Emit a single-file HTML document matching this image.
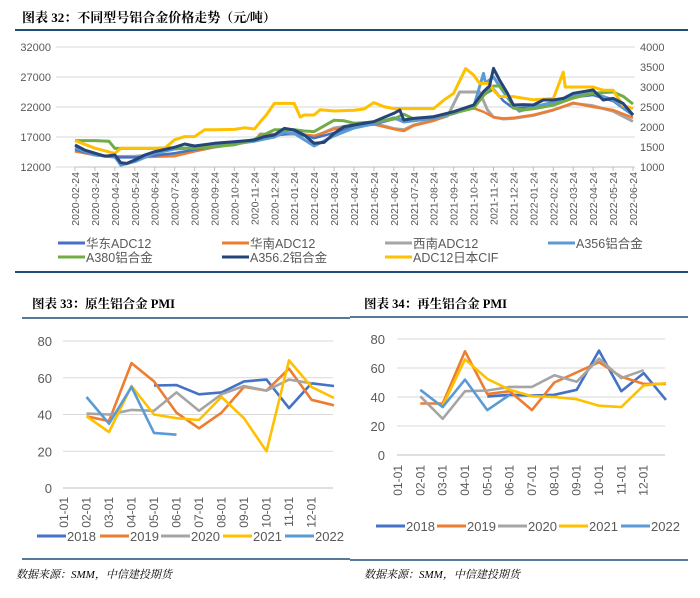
<!DOCTYPE html>
<html><head><meta charset="utf-8">
<style>
body{margin:0;background:#fff;width:700px;height:598px;overflow:hidden;font-family:"Liberation Sans","Noto Sans CJK SC",sans-serif;}
svg{position:absolute;left:0;top:0}
</style></head>
<body>
<svg id="s" width="700" height="598" viewBox="0 0 700 598" xmlns="http://www.w3.org/2000/svg">
<text x="22" y="22" font-size="13" font-weight="bold" font-family="'Liberation Serif','Noto Serif CJK SC',serif" fill="#000">图表 32：不同型号铝合金价格走势（元/吨）</text>
<line x1="15" y1="30" x2="688" y2="30" stroke="#1f4e79" stroke-width="2"/>
<line x1="15" y1="272" x2="688" y2="272" stroke="#1f4e79" stroke-width="2"/>
<text x="32" y="308" font-size="12.5" font-weight="bold" font-family="'Liberation Serif','Noto Serif CJK SC',serif">图表 33：原生铝合金 PMI</text>
<line x1="22" y1="318" x2="350" y2="318" stroke="#1f4e79" stroke-width="1.5"/>
<line x1="22" y1="559" x2="350" y2="559" stroke="#1f4e79" stroke-width="1.5"/>
<text x="16" y="578" font-size="11" font-style="italic" font-family="'Liberation Serif','Noto Serif CJK SC',serif">数据来源：SMM，中信建投期货</text>
<text x="364" y="308" font-size="12.5" font-weight="bold" font-family="'Liberation Serif','Noto Serif CJK SC',serif">图表 34：再生铝合金 PMI</text>
<line x1="350" y1="317" x2="688" y2="317" stroke="#1f4e79" stroke-width="1.5"/>
<line x1="350" y1="560" x2="688" y2="560" stroke="#1f4e79" stroke-width="1.5"/>
<text x="364" y="578" font-size="11" font-style="italic" font-family="'Liberation Serif','Noto Serif CJK SC',serif">数据来源：SMM，中信建投期货</text>
</svg>
<script>
// ---- Chart 32 data (month offsets from 2020-02-24, values) ----
const dateLabels = ["2020-02-24","2020-03-24","2020-04-24","2020-05-24","2020-06-24","2020-07-24","2020-08-24","2020-09-24","2020-10-24","2020-11-24","2020-12-24","2021-01-24","2021-02-24","2021-03-24","2021-04-24","2021-05-24","2021-06-24","2021-07-24","2021-08-24","2021-09-24","2021-10-24","2021-11-24","2021-12-24","2022-01-24","2022-02-24","2022-03-24","2022-04-24","2022-05-24","2022-06-24"];
const leftTicks = [12000,17000,22000,27000,32000];
const rightTicks = [1000,1500,2000,2500,3000,3500,4000];
const grayM = [0,1,2,3,4,5,6,7,8,9,9.3,10,11,12,13,14,15,16,16.5,17,18,18.7,19,19.3,20.3,20.7,21,21.5,22,23,24,25,26,27,28];
const grayV = [14800,14000,13700,13800,14000,14200,14700,15300,15800,16300,17500,17400,17500,17000,18500,19000,19300,18400,18200,19000,19800,20500,22500,24500,24500,21500,20300,20000,20100,20600,21500,22600,22200,21300,19600];
const orangeM = [0,1,2,3,4,5,6,7,8,9,9.3,10,11,12,13,14,15,16,16.5,17,18,19,20,20.5,21,21.5,22,23,24,25,26,27,28];
const orangeV = [14600,14000,13800,13600,13700,13800,14600,15300,15900,16400,17400,17500,17600,17200,18300,18800,19100,18300,18000,18900,19700,21000,21800,21200,20300,20100,20200,20700,21500,22700,22000,21500,20200];
const eastM = [0,1,2,3,4,5,6,7,8,9,10,11,12,13,14,15,16,17,18,19,20,20.5,21,21.5,22,23,24,25,26,27,28];
const eastV = [14900,14000,13600,13600,13900,14300,14900,15400,15900,16600,17200,17700,16800,17700,18700,19100,20000,19800,20200,20900,21900,24000,25000,23000,21800,22000,22600,23600,24000,23000,20600];
const a356M = [0,1,2,2.3,3,4,5,6,7,8,9,10,10.5,11,12,13,14,15,16,16.5,17,18,19,20,20.5,20.6,21,21.5,22,22.3,23,24,25,26,27,28];
const a356V = [15200,14000,13700,12300,12900,14300,15000,15200,15600,16000,16300,17000,17800,17600,15500,17200,18500,19200,20200,19500,19700,20100,20900,22000,27600,26000,27000,24500,22200,21300,22000,22800,23800,24300,23200,20700];
const a380M = [0,1,1.7,2,3,4,5,6,7,8,9,10,11,11.5,12,13,13.5,14,15,16,16.5,17,18,19,20,20.5,21,21.3,21.7,22,22.5,23,24,25,26,27,27.5,28];
const a380V = [16400,16400,16300,15100,15100,15100,15200,15100,15400,15700,16600,18200,18200,18000,17900,19800,19700,19300,19500,20000,20800,20000,20400,21000,21800,23900,25500,25500,24000,21800,21500,21700,22300,23500,24300,24500,23800,22500];
const cifM = [0,1,2,2.3,4.5,5,5.5,6,6.5,7,8,8.5,9,9.3,9.6,10,11,11.3,11.5,12,12.3,13,14,14.5,15,15.5,16,18,18.5,19,19.6,20,20.3,20.8,21,21.3,22,23,24,24.5,24.6,26,26.5,27,27.5,28];
const cifV = [1660,1470,1340,1470,1470,1680,1760,1760,1930,1930,1940,1980,1950,2130,2300,2590,2590,2250,2300,2300,2430,2400,2420,2450,2610,2510,2460,2460,2670,2840,3460,3300,3090,3090,2920,2760,2760,2680,2710,3370,3000,3000,2920,2920,2540,2460];
const navyM = [0,0.5,1,1.5,2,2.3,2.6,3,3.5,4,5,5.5,6,7,8,9,9.5,10,10.5,11,11.5,12,12.5,13,13.5,14,15,16,16.3,16.5,17,18,19,20,20.5,20.8,21,21.3,21.7,22,22.5,23,23.5,24,24.5,25,26,26.5,27,27.5,28];
const navyV = [15670,14800,14300,13800,14000,12700,12600,13170,14000,14550,15280,15830,15500,15950,16220,16500,17050,17330,18440,18170,17330,15950,16100,17600,18720,19000,19560,20950,21500,19830,20100,20390,21220,22330,24560,25500,28440,26500,24300,22330,22400,22330,23170,23170,23440,24280,24830,23170,23440,22610,20670];

// ---- PMI data ----
const monthLabels = ["01-01","02-01","03-01","04-01","05-01","06-01","07-01","08-01","09-01","10-01","11-01","12-01",""];
const pmiTicks = [0,20,40,60,80];
const years = ["2018","2019","2020","2021","2022"];
const p33_2018 = [null,null,null,null,55.8,56,51,52,58,59,43.5,57,55.5];
const p33_2019 = [null,39,36.4,68,58,41,32.5,41,55,53,65,48,45];
const p33_2020 = [null,40.5,40,42.5,42,52,42,51,55.5,53,59,57,null];
const p33_2021 = [null,39,30.5,55.5,40,38,37,49.5,38,20,69.5,55,49];
const p33_2022 = [null,49.5,35,55,30,29,null,null,null,null,null,null,null];
const p34_2018 = [null,null,null,null,40.3,41.5,41,41.5,45,72,44,56.5,38];
const p34_2019 = [null,35.5,35.5,71.5,42,44,31,50,57,64,54,49,49];
const p34_2020 = [null,40.5,25,44,44.5,47,47,55,50.5,66.5,53,58.5,null];
const p34_2021 = [null,null,34,66,52.5,45,40.5,40,38.5,34,33,48,49.5];
const p34_2022 = [null,45,33,52,31,41.5,null,null,null,null,null,null,null];
const yearColors = ["#4472c4","#ed7d31","#a5a5a5","#ffc000","#5b9bd5"];

const NS = "http://www.w3.org/2000/svg";
const svg = document.getElementById("s");
function mk(tag, attrs, parent) {
  const e = document.createElementNS(NS, tag);
  for (const k in attrs) e.setAttribute(k, attrs[k]);
  (parent || svg).appendChild(e);
  return e;
}

// ---- Chart 32 ----
const X0 = 75, X1 = 633, YT = 47, YB = 167;
const xm = m => X0 + m * (X1 - X0) / 28;
const yL = v => YB - (v - 12000) / 20000 * (YB - YT);
const yR = v => YB - (v - 1000) / 3000 * (YB - YT);
leftTicks.forEach(t => {
  const g = mk("line", {x1: 56, x2: 635, y1: yL(t), y2: yL(t), stroke: "#d9d9d9", "stroke-width": 1});
  
  
  const l = mk("text", {x: 51, y: yL(t) + 4, "font-size": 11, fill: "#595959", "text-anchor": "end"});
  l.textContent = t;
  
  
});
rightTicks.forEach(t => {
  const l = mk("text", {x: 640, y: yR(t) + 4, "font-size": 11, fill: "#595959"});
  l.textContent = t;
  
  
});
const ax = mk("line", {x1: X0, x2: X1 + 1, y1: YB, y2: YB, stroke: "#bfbfbf", "stroke-width": 1});


dateLabels.forEach((d, i) => {
  const x = xm(i);
  const tk = mk("line", {x1: x, x2: x, y1: YB, y2: YB + 4, stroke: "#bfbfbf"});
  
  
  const t = mk("text", {x: 0, y: 0, "font-size": 10.5, fill: "#595959", "text-anchor": "end", transform: `translate(${x + 4},172) rotate(-90)`});
  t.textContent = d;
  
  
});
function line32(M, V, yf, color, name, w) {
  const pts = M.map((m, i) => xm(m).toFixed(1) + "," + yf(V[i]).toFixed(1)).join(" ");
  const p = mk("polyline", {points: pts, fill: "none", stroke: color, "stroke-width": w, "stroke-linejoin": "round"});
  
  
}
line32(grayM, grayV, yL, "#a5a5a5", "series-xinan-adc12", 3);
line32(orangeM, orangeV, yL, "#ed7d31", "series-huanan-adc12", 2.5);
line32(eastM, eastV, yL, "#4472c4", "series-huadong-adc12", 2.5);
line32(a356M, a356V, yL, "#5b9bd5", "series-a356", 3);
line32(a380M, a380V, yL, "#70ad47", "series-a380", 3);
line32(cifM, cifV, yR, "#ffc000", "series-adc12-japan-cif", 3);
line32(navyM, navyV, yL, "#264478", "series-a356-2", 3);

const leg32 = [["华东ADC12","#4472c4",58,243],["华南ADC12","#ed7d31",222,243],["西南ADC12","#a5a5a5",385,243],["A356铝合金","#5b9bd5",548,243],["A380铝合金","#70ad47",58,257],["A356.2铝合金","#264478",222,257],["ADC12日本CIF","#ffc000",385,257]];
leg32.forEach(([n, c, x, y]) => {
  const g = mk("g", {});
  
  
  mk("line", {x1: x, x2: x + 27, y1: y, y2: y, stroke: c, "stroke-width": 3}, g);
  const t = mk("text", {x: x + 28, y: y + 5, "font-size": 12.5, fill: "#595959"}, g);
  t.textContent = n;
});

// ---- PMI charts ----
function pmiChart(cfg) {
  const {gx0, gx1, yTop, yBot, labX, labTop, legY, legX, series, prefix} = cfg;
  const step = (gx1 - gx0) / 12;
  const xc = i => gx0 + 1 + i * step;
  const yc = v => yBot - v / 80 * (yBot - yTop);
  pmiTicks.forEach(t => {
    const g = mk("line", {x1: gx0, x2: gx1, y1: yc(t), y2: yc(t), stroke: t === 0 ? "#bfbfbf" : "#d9d9d9", "stroke-width": 1});
    
    
    const l = mk("text", {x: labX, y: yc(t) + 5, "font-size": 13, fill: "#595959", "text-anchor": "end"});
    l.textContent = t;
    
    
  });
  monthLabels.forEach((m, i) => {
    if (!m) return;
    const t = mk("text", {x: 0, y: 0, "font-size": 12, fill: "#595959", "text-anchor": "end", transform: `translate(${xc(i) + 4},${labTop}) rotate(-90)`});
    t.textContent = m;
    
    
  });
  series.forEach((arr, k) => {
    let segs = [], cur = [];
    arr.forEach((v, i) => {
      if (v === null) { if (cur.length) segs.push(cur); cur = []; }
      else cur.push(xc(i).toFixed(1) + "," + yc(v).toFixed(1));
    });
    if (cur.length) segs.push(cur);
    segs.forEach(s => {
      const p = mk("polyline", {points: s.join(" "), fill: "none", stroke: yearColors[k], "stroke-width": 2.6, "stroke-linejoin": "round"});
      
      
    });
  });
  years.forEach((yname, k) => {
    const x = legX[k];
    const g = mk("g", {});
    
    
    mk("line", {x1: x, x2: x + 29, y1: legY, y2: legY, stroke: yearColors[k], "stroke-width": 3}, g);
    const t = mk("text", {x: x + 30, y: legY + 5, "font-size": 13, fill: "#595959"}, g);
    t.textContent = yname;
  });
}
pmiChart({gx0: 63, gx1: 333, yTop: 341, yBot: 488, labX: 52, labTop: 497, legY: 536, legX: [37, 100, 161, 223, 285], prefix: "chart33", series: [p33_2018, p33_2019, p33_2020, p33_2021, p33_2022]});
pmiChart({gx0: 397, gx1: 665, yTop: 339, yBot: 455, labX: 385, labTop: 465, legY: 526, legX: [376, 437, 498, 559, 621], prefix: "chart34", series: [p34_2018, p34_2019, p34_2020, p34_2021, p34_2022]});
</script>
</body></html>
